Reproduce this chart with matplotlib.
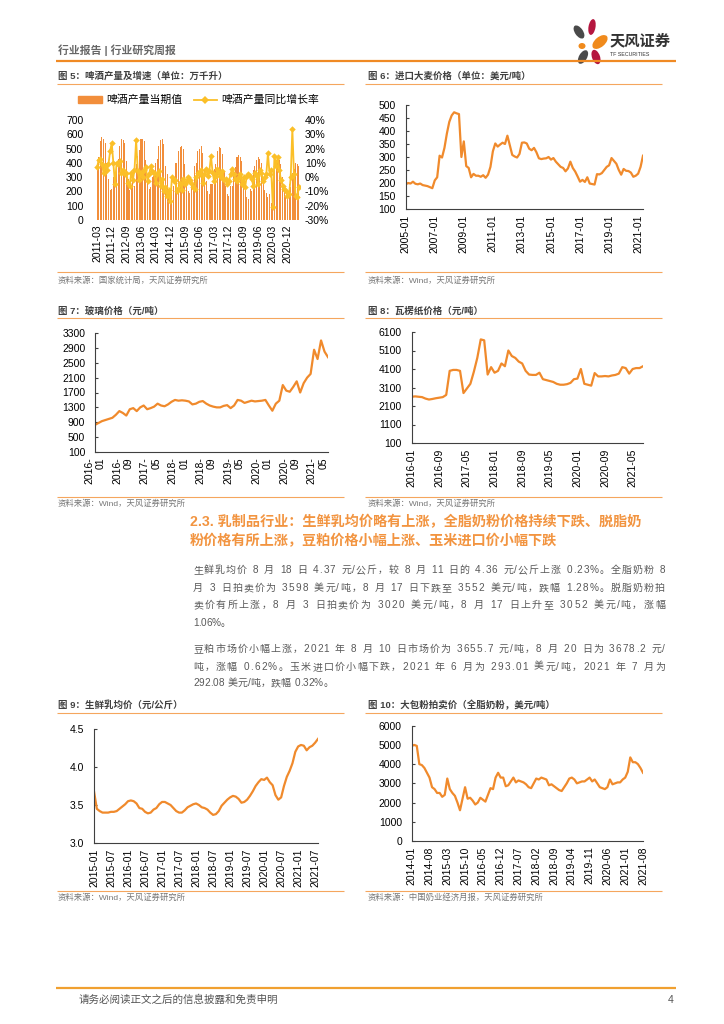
import numpy as np
import matplotlib
matplotlib.use("Agg")
import matplotlib.pyplot as plt
from matplotlib.patches import Ellipse, Patch
from matplotlib.lines import Line2D
from matplotlib.font_manager import FontProperties

FAMILY = ['Liberation Sans', 'Noto Sans CJK SC', 'DejaVu Sans']
plt.rcParams['font.family'] = FAMILY

# ========================================================
# Data
# ========================================================
# Fig 5: beer output (10k kL) and YoY growth (%), monthly 2011-03 .. 2021-07
beer_output = [
    370, 440, 550, 580, 565, 540, 400, 290, 210, 220,
    300, 330, 380, 430, 520, 565, 560, 540, 410, 290, 210, 230,
    320, 240, 390, 450, 490, 570, 565, 550, 420, 300, 220, 230,
    300, 310, 400, 430, 520, 560, 565, 530, 380, 320, 200, 190,
    260, 240, 400, 400, 480, 510, 520, 500, 390, 280, 200, 190,
    250, 250, 380, 400, 480, 500, 515, 470, 360, 270, 200, 180,
    250, 250, 360, 390, 480, 510, 505, 460, 340, 240, 180, 170,
    240, 240, 350, 370, 440, 455, 440, 410, 300, 220, 160, 150,
    220, 200, 350, 380, 420, 440, 430, 400, 300, 210, 190, 160,
    180, 120, 250, 350, 420, 430, 420, 390, 300, 210, 160, 150,
    250, 230, 330, 360, 400, 390, 380,
]
beer_yoy = [
    7, 12, 13, 9, 3, 8, 5, 9, 18, 24,
    10, -5, 10, 9, 11, 3, 5, 2, 3, -4, -6, 3,
    -2, 5, 26, 4, -2, 3, 0, 5, 7, -3, 2, 8,
    4, 3, -4, 2, 4, -6, -1, -10, -7, -13, -9, -17,
    0, -3, -2, -10, -8, -4, -9, -1, -5, -3, 0, -2,
    -4, -7, -8, 0, 3, 2, 5, -4, 2, 6, 1, 4,
    15, 3, -3, 1, 6, 3, 0, 4, -2, -1, -5, -3,
    2, 6, 2, -1, -3, 0, 2, -5, 0, -7, 1, 2,
    1, -1, -6, 3, 1, -5, 5, 3, -3, 0, 2, 17,
    2, 5, -21, 15, 8, 14, 5, -2, -6, -8, -10, -13,
    -12, 0, 34, 2, -13, -14, -7,
]

# Fig 6: imported barley price (USD/t), every 2 months 2005-01 .. 2021-05
barley_price = [
    195, 200, 198, 205, 197, 195,
    198, 192, 190, 188, 184, 180,
    210, 222, 305, 298, 335, 390,
    435, 460, 472, 468, 465, 300,
    360, 265, 258, 222, 235, 228,
    228, 224, 230, 220, 232, 262,
    322, 352, 340, 348, 355, 350,
    382, 345, 308, 302, 298, 312,
    355, 356, 352, 332, 326, 335,
    318, 295, 292, 294, 295, 300,
    290, 296, 282, 272, 262, 258,
    245, 256, 282, 258, 244, 225,
    205, 212, 204, 222, 198, 196,
    194, 234, 233, 238, 250, 262,
    268, 296, 285, 274, 250, 232,
    254, 247, 246, 240, 224, 228,
    236, 262, 305,
]

# Fig 7: glass price (CNY/t), monthly 2016-01 .. 2021-08
glass_price = [
    830, 880, 930, 960, 990, 1020, 1100, 1200, 1150, 1080, 1250, 1280,
    1200, 1300, 1350, 1250, 1280, 1320, 1400, 1350, 1330, 1380, 1450, 1500,
    1480, 1490, 1480, 1460, 1380, 1400, 1450, 1470, 1400, 1350, 1320, 1300,
    1300, 1340, 1360, 1280, 1350, 1500, 1480, 1420, 1450, 1480, 1460, 1470,
    1480, 1500, 1350, 1210, 1400, 1480, 1900, 1750, 1720, 1850, 2000, 1700,
    1950, 2100, 2200, 2850, 2600, 3100, 2800, 2650,
]

# Fig 8: corrugated paper price (CNY/t), monthly 2016-01 .. 2021-08
paper_price = [
    2600, 2620, 2600, 2580, 2500, 2450, 2480, 2520, 2550, 2580, 2700, 4000,
    4050, 4050, 4000, 2800, 3050, 3300, 3950, 4700, 5700, 5650, 3800, 4200,
    3900, 4000, 4400, 4250, 5100, 4800, 4700, 4500, 4400, 4000, 3800, 3780,
    3780, 3900, 3550, 3500, 3450, 3400, 3300, 3250, 3250, 3280, 3350, 3550,
    3580, 4100, 3300, 3250, 3200, 3880, 3700, 3700, 3720, 3700, 3750, 3780,
    3850, 4200, 4150, 3850, 4100, 4150, 4150, 4250,
]

# Fig 9: raw milk average price (CNY/kg), monthly 2015-01 .. 2021-08
milk_price = [
    3.68, 3.45, 3.42, 3.40, 3.40, 3.40, 3.41, 3.41, 3.42, 3.45, 3.48, 3.51,
    3.55, 3.56, 3.55, 3.52, 3.46, 3.45, 3.41, 3.39, 3.40, 3.44, 3.46, 3.51,
    3.54, 3.54, 3.52, 3.50, 3.46, 3.42, 3.40, 3.40, 3.43, 3.47, 3.49, 3.51,
    3.52, 3.50, 3.47, 3.46, 3.44, 3.40, 3.37, 3.38, 3.42, 3.49, 3.53, 3.57,
    3.60, 3.62, 3.61, 3.58, 3.53, 3.54, 3.57, 3.62, 3.68, 3.75, 3.80, 3.84,
    3.83, 3.86, 3.80, 3.76, 3.63, 3.57, 3.60, 3.75, 3.87, 3.95, 4.05, 4.20,
    4.27, 4.29, 4.28, 4.22, 4.26, 4.28, 4.32, 4.37,
]

# Fig 10: whole milk powder auction price (USD/t), monthly 2014-01 .. 2021-08
wmp_price = [
    4950, 5000, 4950, 4000, 3950, 3800, 3550, 3300, 2800, 2700, 2500, 2500,
    2300, 2400, 3250, 2700, 2500, 2350, 2000, 1600, 2200, 2800, 2200, 2250,
    2100, 1900, 2000, 2250, 2150, 2050, 2400, 2750, 2700, 3300, 3550, 3300,
    3300, 2850, 2900, 3100, 3300, 3050, 3150, 3100, 3050, 2950, 2800, 2750,
    3000, 3250, 3200, 3300, 3250, 3200, 2900, 2950, 2850, 2750, 2650, 2600,
    2800, 3000, 3250, 3300, 3200, 3000, 3050, 3100, 3100, 3200, 3300, 3100,
    3200, 3000, 2800, 2750, 2700, 2800, 3200, 2950, 3000, 3050, 3050, 3200,
    3300, 3600, 4350, 4100, 4100, 4000, 3800, 3550,
]

titles = ["图 5：啤酒产量及增速（单位：万千升）", "图 6：进口大麦价格（单位：美元/吨）",
          "图 7：玻璃价格（元/吨）", "图 8：瓦楞纸价格（元/吨）",
          "图 9：生鲜乳均价（元/公斤）", "图 10：大包粉拍卖价（全脂奶粉，美元/吨）"]
sources = ["资料来源：国家统计局，天风证券研究所", "资料来源：Wind，天风证券研究所",
           "资料来源：Wind，天风证券研究所", "资料来源：Wind，天风证券研究所",
           "资料来源：Wind，天风证券研究所", "资料来源：中国奶业经济月报，天风证券研究所"]
legend_labels = ["啤酒产量当期值", "啤酒产量同比增长率"]

heading = ["2.3. 乳制品行业：生鲜乳均价略有上涨，全脂奶粉价格持续下跌、脱脂奶",
           "粉价格有所上涨，豆粕价格小幅上涨、玉米进口价小幅下跌"]
para1 = ["生鲜乳均价 8 月 18 日 4.37 元/公斤，较 8 月 11 日的 4.36 元/公斤上涨 0.23%。全脂奶粉 8",
         "月 3 日拍卖价为 3598 美元/吨，8 月 17 日下跌至 3552 美元/吨，跌幅 1.28%。脱脂奶粉拍",
         "卖价有所上涨，8 月 3 日拍卖价为 3020 美元/吨，8 月 17 日上升至 3052 美元/吨，涨幅",
         "1.06%。"]
para2 = ["豆粕市场价小幅上涨，2021 年 8 月 10 日市场价为 3655.7 元/吨，8 月 20 日为 3678.2 元/",
         "吨，涨幅 0.62%。玉米进口价小幅下跌，2021 年 6 月为 293.01 美元/吨，2021 年 7 月为",
         "292.08 美元/吨，跌幅 0.32%。"]

# ========================================================
# Page setup (page axes uses pixel coordinates, y down)
# ========================================================
W, H = 724, 1024
ORANGE = "#F08A2C"
RULE = "#F5A65E"
BAR = "#F28E3B"
YEL = "#FBBF28"
GREY = "#404040"

fig = plt.figure(figsize=(W / 100, H / 100), dpi=100)
page = fig.add_axes([0, 0, 1, 1])
page.set_xlim(0, W)
page.set_ylim(H, 0)
page.axis("off")


def rect(l, t, r, b):
    return [l / W, 1 - b / H, (r - l) / W, (b - t) / H]


def hline(x0, x1, y, color=RULE, lw=0.8):
    page.plot([x0, x1], [y, y], color=color, lw=lw, solid_capstyle="butt")


def mlabel(y0, m0, k, two_lines=False):
    y = y0 + (m0 - 1 + k) // 12
    m = (m0 - 1 + k) % 12 + 1
    return f"{y}-\n{m:02d}" if two_lines else f"{y}-{m:02d}"


# header
page.text(58, 50, "行业报告 | 行业研究周报", fontsize=7.8, color="#666666",
          fontweight="bold", va="center")
hline(56, 676, 61, color="#F08A24", lw=1.6)
# logo petals
for (cx, cy, w, h, ang, c) in [(579, 32, 8, 15, -35, "#4A4A4A"),
                               (592, 27, 7, 16, 10, "#B5163F"),
                               (600, 42, 10, 18, 50, "#F08A1C"),
                               (582, 46, 7, 6, 0, "#F08A1C"),
                               (583, 57, 8, 15, 30, "#4A4A4A"),
                               (596, 57, 8, 15, -20, "#B5163F")]:
    page.add_patch(Ellipse((cx, cy), w, h, angle=ang, color=c, lw=0))
page.text(610, 41, "天风证券", fontsize=11, fontweight="bold", color="#333333", va="center")
page.text(610, 55, "TF SECURITIES", fontsize=3.8, color="#333333", va="center")

# chart frames: titles, rules, sources
frames = [(58, 57, 344, 76, 84, 272, 281), (368, 365, 662, 76, 84, 272, 281),
          (58, 57, 344, 311, 318, 497, 504), (368, 365, 662, 311, 318, 497, 504),
          (58, 57, 344, 705, 712.5, 891, 898), (368, 365, 662, 705, 712.5, 891, 898)]
for i, (tx, x0, x1, ty, ly, sy, st) in enumerate(frames):
    page.text(tx, ty, titles[i], fontsize=6.8, fontweight="bold", color="#404040", va="center")
    hline(x0, x1, ly)
    hline(x0, x1, sy)
    page.text(tx, st, sources[i], fontsize=6, color="#777777", va="center")

# ========================================================
# Fig 5: bars + yoy line
# ========================================================
ax5 = fig.add_axes(rect(93, 120, 300, 220))
x5 = np.arange(len(beer_output))
ax5.bar(x5, beer_output, width=0.65, color=BAR, lw=0)
ax5.set_xlim(-2.5, len(beer_output) - 0.3)
ax5.set_ylim(0, 700)
ax5.set_yticks(np.arange(0, 701, 100))
ax5.set_xticks(x5[::9])
ax5.set_xticklabels([mlabel(2011, 3, k) for k in x5[::9]], rotation=90)
for s in ax5.spines.values():
    s.set_visible(False)
ax5.tick_params(axis="y", length=0, pad=7, labelsize=7.5)
ax5.tick_params(axis="x", length=0, pad=3.5, labelsize=7.5)
ax5.patch.set_alpha(0)

ax5r = ax5.twinx()
ax5r.plot(x5, beer_yoy, color=YEL, lw=1.3, marker="D", ms=3.3, mew=0)
ax5r.set_ylim(-30, 40)
ax5r.set_yticks(np.arange(-30, 41, 10))
ax5r.set_yticklabels([f"{v}%" for v in range(-30, 41, 10)])
for s in ax5r.spines.values():
    s.set_visible(False)
ax5r.tick_params(axis="y", length=0, pad=3.5, labelsize=7.5)

handles = [Patch(color=BAR), Line2D([], [], color=YEL, lw=1.3, marker="D", ms=4, mew=0)]
fig.legend(handles, legend_labels, loc="center", bbox_to_anchor=(199 / W, 1 - 100 / H),
           ncol=2, frameon=False, fontsize=7.8, handlelength=2.2, handleheight=0.5,
           columnspacing=1.0, handletextpad=0.4)


# ========================================================
# Line charts
# ========================================================
def line_chart(box, values, step, ylim, yticks, tick_pos, tick_labels, ylabels=None):
    ax = fig.add_axes(rect(*box))
    x = np.arange(len(values)) * step
    ax.plot(x, values, color=ORANGE, lw=1.6)
    ax.set_xlim(0, x[-1])
    ax.set_ylim(*ylim)
    ax.set_yticks(yticks)
    if ylabels is not None:
        ax.set_yticklabels(ylabels)
    ax.set_xticks(tick_pos)
    ax.set_xticklabels(tick_labels, rotation=90, ma="right")
    ax.spines["top"].set_visible(False)
    ax.spines["right"].set_visible(False)
    for s in ("left", "bottom"):
        ax.spines[s].set_color(GREY)
        ax.spines[s].set_linewidth(0.8)
    ax.tick_params(axis="y", direction="in", length=2.5, width=0.8, color=GREY,
                   pad=7, labelsize=7.5)
    ax.tick_params(axis="x", length=0, pad=4, labelsize=7.5)
    ax.patch.set_alpha(0)
    return ax


t6 = list(range(0, 193, 24))
line_chart((405.7, 105, 643, 209), barley_price, 2, (100, 500), np.arange(100, 501, 50),
           t6, [mlabel(2005, 1, k) for k in t6])

t7 = list(range(0, 65, 8))
line_chart((95, 333, 328, 452), glass_price, 1, (100, 3300), np.arange(100, 3301, 400),
           t7, [mlabel(2016, 1, k, two_lines=True) for k in t7])

line_chart((411.7, 332, 643, 443), paper_price, 1, (100, 6100), np.arange(100, 6101, 1000),
           t7, [mlabel(2016, 1, k) for k in t7])

t9 = list(range(0, 79, 6))
line_chart((94, 729, 318, 843), milk_price, 1, (3.0, 4.5), [3.0, 3.5, 4.0, 4.5],
           t9, [mlabel(2015, 1, k) for k in t9], ylabels=["3.0", "3.5", "4.0", "4.5"])

t10 = list(range(0, 92, 7))
line_chart((411.7, 725.7, 643, 841), wmp_price, 1, (0, 6000), np.arange(0, 6001, 1000),
           t10, [mlabel(2014, 1, k) for k in t10])

# ========================================================
# Section heading + body text (justified character by character)
# ========================================================
page.text(190, 522, heading[0], fontsize=10.2, fontweight="bold", color="#F29440", va="center")
page.text(190, 541.5, heading[1], fontsize=10.2, fontweight="bold", color="#F29440", va="center")

renderer = fig.canvas.get_renderer()
body_prop = FontProperties(family=FAMILY, size=7.2)
em = 7.2 * 100 / 72
adv_cache = {}


def advance(ch):
    if ch == " ":
        return 0.4 * em
    if ch not in adv_cache:
        w2 = renderer.get_text_width_height_descent(ch * 2, body_prop, ismath=False)[0]
        w1 = renderer.get_text_width_height_descent(ch, body_prop, ismath=False)[0]
        adv_cache[ch] = w2 - w1
    return adv_cache[ch]


def body_line(s, y, justify, x0=193, x1=665):
    advs = [advance(c) for c in s]
    gap = (x1 - x0 - sum(advs)) / (len(s) - 1) if justify else 0.0
    x = x0
    for c, a in zip(s, advs):
        if c != " ":
            page.text(x, y + 3.3, c, fontproperties=body_prop, color="#595959",
                      va="baseline", ha="left")
        x += a + gap


for i, (s, y) in enumerate(zip(para1, [570, 587.6, 605, 622.4])):
    body_line(s, y, i < len(para1) - 1)
for i, (s, y) in enumerate(zip(para2, [649, 666.3, 683])):
    body_line(s, y, i < len(para2) - 1)

# footer
hline(56, 676, 988, color="#F0A030", lw=1.6)
page.text(79, 1000, "请务必阅读正文之后的信息披露和免责申明", fontsize=7.6, color="#555555", va="center")
page.text(668, 1000, "4", fontsize=7.6, color="#555555", va="center")

fig.savefig("out.png", dpi=100)
